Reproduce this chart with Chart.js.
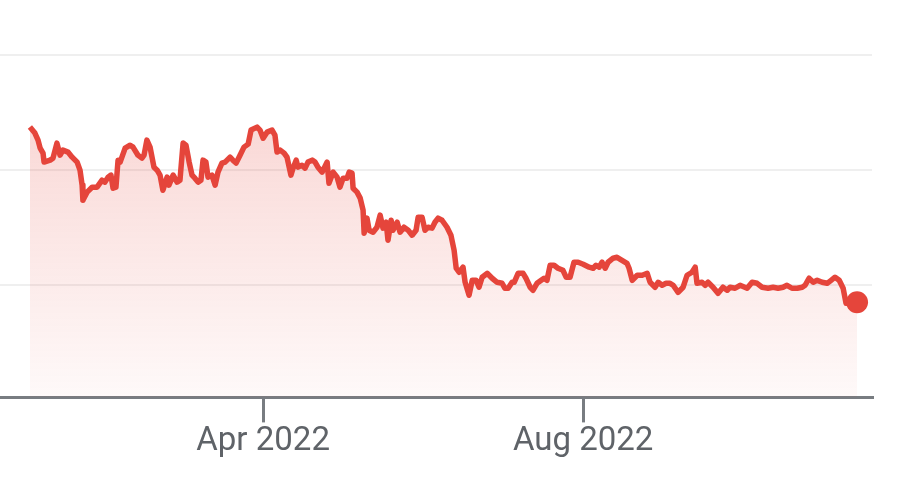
<!DOCTYPE html>
<html>
<head>
<meta charset="utf-8">
<script src="https://cdn.jsdelivr.net/npm/chart.js@4/dist/chart.umd.min.js"></script>
<style>
  html, body { margin: 0; padding: 0; background: #ffffff; }
  #wrap { width: 919px; height: 498px; }
</style>
</head>
<body>
<div id="wrap"><canvas id="priceChart" width="919" height="498"></canvas></div>
<script>
// day offsets counted from 1 Jan 2022
const days = [
  1.1, 3.0, 4.2, 5.0, 6.1, 6.5, 8.8, 9.9, 11.4, 12.6, 13.7, 15.6, 17.2, 19.1, 20.2, 21.0, 21.3, 22.9, 24.8, 26.7,
  28.6, 29.7, 30.9, 32.0, 32.8, 33.9, 34.7, 35.5, 37.4, 39.3, 40.4, 42.3, 43.8, 44.6, 45.7, 46.9, 48.4, 49.6, 50.7, 51.8,
  53.4, 54.1, 55.7, 57.2, 58.3, 59.5, 60.6, 61.8, 62.9, 64.0, 65.2, 66.3, 67.1, 68.2, 69.0, 70.5, 71.7, 72.8, 74.3, 75.5,
  77.4, 78.5, 79.7, 81.2, 82.7, 84.3, 85.4, 87.7, 88.8, 90.0, 91.5, 93.4, 94.5, 95.3, 96.5, 98.0, 99.1, 100.6, 101.4, 102.6,
  103.3, 104.8, 106.0, 107.1, 108.7, 109.8, 110.9, 112.5, 114.4, 115.1, 116.7, 118.2, 119.3, 120.5, 122.0, 122.8, 123.9, 124.3, 125.8, 127.0,
  128.1, 128.5, 129.6, 130.4, 131.9, 133.4, 134.6, 135.7, 136.9, 137.6, 138.8, 139.5, 141.1, 142.2, 143.7, 145.3, 146.8, 148.3, 149.1, 150.6,
  151.7, 152.9, 154.4, 155.5, 156.7, 158.2, 160.1, 161.6, 162.8, 163.6, 164.7, 166.2, 167.0, 168.5, 169.7, 171.2, 172.3, 173.5, 175.4, 177.3,
  179.2, 181.1, 182.2, 183.4, 184.9, 185.7, 187.2, 189.1, 190.2, 191.8, 192.9, 194.4, 196.0, 197.1, 198.2, 199.4, 200.9, 202.4, 204.3, 205.5,
  207.0, 208.5, 210.1, 212.0, 214.3, 215.8, 216.9, 218.1, 219.2, 220.4, 221.5, 223.4, 224.9, 226.8, 228.7, 229.5, 230.7, 232.6, 234.5, 236.4,
  237.5, 239.4, 240.6, 242.1, 243.6, 245.1, 246.3, 248.2, 250.1, 251.6, 253.5, 254.7, 255.4, 257.3, 258.5, 259.6, 261.5, 263.4, 265.3, 266.9,
  268.0, 269.9, 271.8, 274.5, 276.4, 278.3, 280.2, 282.5, 284.4, 286.3, 288.2, 289.7, 291.6, 293.6, 295.5, 296.6, 298.1, 299.7, 301.2, 303.1,
  305.0, 306.5, 308.0, 309.6, 311.1, 312.2, 314.5, 316.4
];

const prices = [
  237.4, 232.2, 226.1, 219.1, 214.8, 207.0, 208.7, 210.4, 223.5, 213.0, 217.4, 215.7, 211.3, 207.0, 200.0, 187.0, 173.9, 180.9, 185.2, 185.2,
  191.3, 189.6, 193.9, 195.7, 184.3, 185.2, 208.7, 207.0, 219.1, 221.7, 220.0, 213.0, 210.4, 213.0, 226.1, 220.0, 202.6, 200.0, 195.7, 182.6,
  193.9, 187.0, 195.7, 189.6, 191.3, 223.5, 221.7, 207.0, 195.7, 193.0, 189.6, 191.3, 208.7, 207.0, 193.9, 195.7, 187.0, 198.3, 206.1, 207.0,
  211.3, 208.7, 206.1, 213.0, 220.0, 222.6, 234.8, 237.4, 234.8, 227.8, 233.0, 234.8, 230.4, 215.7, 217.4, 214.8, 211.3, 195.7, 201.7, 208.7,
  202.6, 204.3, 201.7, 207.0, 208.7, 207.0, 202.6, 198.3, 207.0, 188.7, 198.3, 193.9, 185.2, 193.0, 193.0, 198.3, 197.4, 184.3, 180.9, 175.7,
  165.2, 145.2, 158.3, 147.8, 146.1, 150.4, 160.9, 149.6, 154.8, 139.1, 156.5, 147.8, 154.8, 146.1, 150.4, 147.8, 143.5, 147.8, 159.1, 159.1,
  147.8, 150.4, 149.6, 154.8, 158.3, 156.5, 150.4, 143.5, 130.4, 114.8, 111.3, 115.7, 102.6, 91.3, 104.3, 104.3, 98.3, 107.0, 110.4, 106.1,
  102.6, 101.7, 97.4, 97.4, 102.6, 102.6, 110.4, 110.4, 106.1, 98.3, 95.7, 101.7, 104.3, 106.1, 104.3, 117.4, 117.4, 114.8, 113.0, 107.0,
  107.0, 120.0, 120.0, 118.3, 115.7, 114.8, 117.4, 115.7, 120.0, 114.8, 120.0, 123.5, 124.3, 121.7, 119.1, 114.8, 104.3, 108.7, 108.7, 110.4,
  102.6, 98.3, 102.6, 100.0, 101.7, 101.7, 100.0, 93.9, 98.3, 108.7, 111.3, 115.7, 101.7, 102.6, 100.0, 102.6, 98.3, 93.0, 98.3, 95.7,
  98.3, 97.4, 100.0, 97.4, 102.6, 101.7, 98.3, 97.4, 98.3, 97.4, 98.3, 100.0, 97.4, 97.4, 98.3, 100.0, 106.1, 102.6, 104.3, 102.6,
  101.7, 104.3, 107.0, 104.3, 97.4, 84.3, 85.2, 85.2
];

// x tick marks: 1 Apr 2022 and 1 Aug 2022
const tickDays = [90, 212];
const tickLabels = ['Apr 2022', 'Aug 2022'];
const gridValues = [100, 200, 300];

const lineColor = '#e5453b';
const axisColor = '#787c81';

function fillGradient(context) {
  const chart = context.chart;
  const area = chart.chartArea;
  if (!area) return 'rgba(229, 69, 59, 0.15)';
  const g = chart.ctx.createLinearGradient(0, area.top, 0, area.bottom);
  g.addColorStop(0, 'rgba(229, 69, 59, 0.32)');
  g.addColorStop(0.45, 'rgba(229, 69, 59, 0.17)');
  g.addColorStop(1, 'rgba(229, 69, 59, 0.03)');
  return g;
}

new Chart(document.getElementById('priceChart'), {
  type: 'line',
  data: {
    datasets: [{
      data: days.map((d, i) => ({ x: d, y: prices[i] })),
      borderColor: lineColor,
      borderWidth: 5.5,
      borderJoinStyle: 'round',
      backgroundColor: fillGradient,
      fill: 'start',
      tension: 0,
      pointRadius: ctx => ctx.dataIndex === days.length - 1 ? 11 : 0,
      pointBackgroundColor: lineColor,
      pointBorderWidth: 0,
      pointHoverRadius: 0
    }]
  },
  options: {
    responsive: false,
    animation: false,
    layout: { autoPadding: false, padding: { left: 0, right: 47, top: 0, bottom: 36 } },
    plugins: {
      legend: { display: false },
      tooltip: { enabled: false }
    },
    scales: {
      x: {
        type: 'linear',
        min: -10.3,
        max: 322.1,
        afterBuildTicks: scale => { scale.ticks = tickDays.map(v => ({ value: v })); },
        grid: {
          drawOnChartArea: false,
          drawTicks: true,
          tickLength: 25,
          color: axisColor,
          lineWidth: 3
        },
        border: { display: true, color: axisColor, width: 3 },
        ticks: {
          autoSkip: false,
          maxRotation: 0,
          padding: 0,
          color: '#5f6368',
          font: { family: 'Roboto', size: 33 },
          callback: value => tickLabels[tickDays.indexOf(value)]
        }
      },
      y: {
        min: 2.6,
        max: 347.8,
        afterBuildTicks: scale => { scale.ticks = gridValues.map(v => ({ value: v })); },
        grid: { color: '#efefef', lineWidth: 2, drawTicks: false },
        border: { display: false },
        ticks: { display: false }
      }
    }
  }
});
</script>
</body>
</html>
